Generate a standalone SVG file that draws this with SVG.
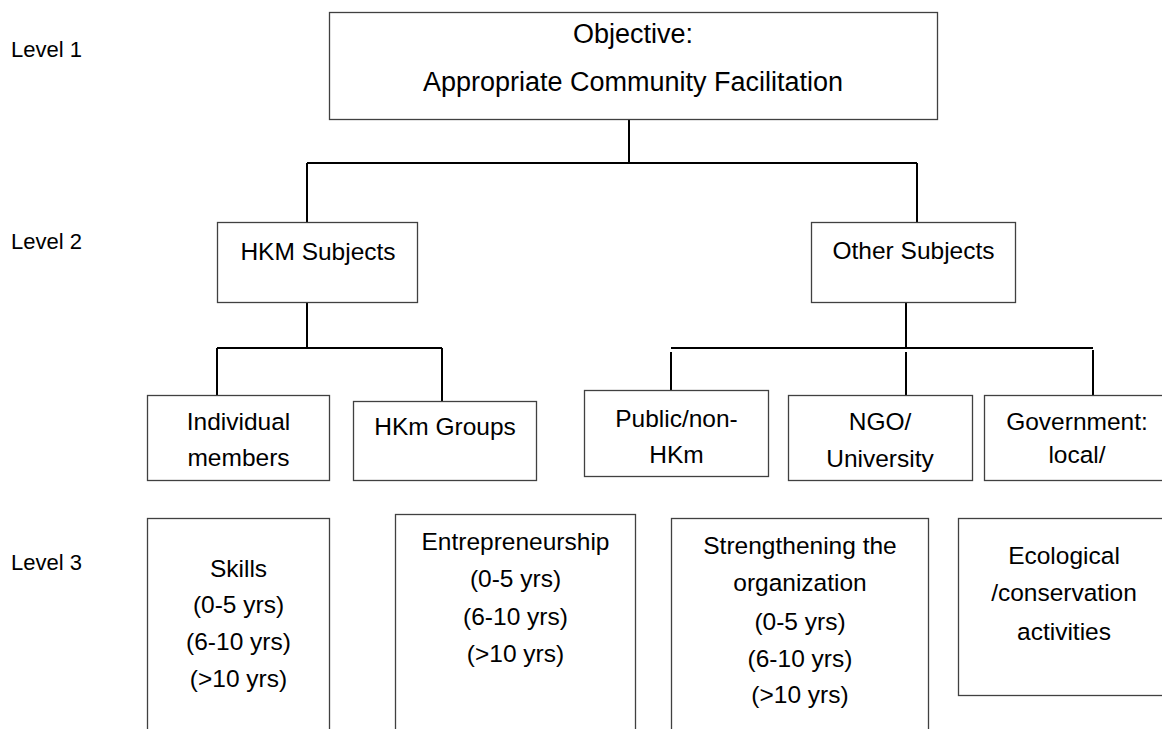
<svg xmlns="http://www.w3.org/2000/svg" width="1162" height="729" viewBox="0 0 1162 729">
<style>
.box{fill:#fff;stroke:#404040;stroke-width:1.3}
.t{font-family:"Liberation Sans",Arial,sans-serif;font-size:24.5px;fill:#000;text-anchor:middle}
.top{font-size:27px}
.lvl{font-family:"Liberation Sans",Arial,sans-serif;font-size:22px;fill:#000}
.c{stroke:#000;stroke-width:2;fill:none}
</style>
<rect width="1162" height="729" fill="#fff"/>
<g id="levels">
<text class="lvl" x="11" y="57">Level 1</text>
<text class="lvl" x="11" y="249">Level 2</text>
<text class="lvl" x="11" y="570">Level 3</text>
</g>
<g id="connectors">
<path class="c" d="M629 120V163M307 163H917M307 163V222M917 163V222"/>
<path class="c" d="M307 303V348M217 348H442M217 348V396M442 348V401"/>
<path class="c" d="M906 303V348M671 348H1093M671 352V397M906 352V395M1093 350V395"/>
</g>
<g id="objective">
<rect class="box" x="329.5" y="12.5" width="608" height="107"/>
<text class="t top" x="633" y="43">Objective:</text>
<text class="t top" x="633" y="91">Appropriate Community Facilitation</text>
</g>
<g id="hkm-subjects">
<rect class="box" x="217.5" y="222.5" width="200" height="80"/>
<text class="t" x="318" y="260">HKM Subjects</text>
</g>
<g id="other-subjects">
<rect class="box" x="811.5" y="222.5" width="204" height="80"/>
<text class="t" x="913.5" y="259">Other Subjects</text>
</g>
<g id="individual-members">
<rect class="box" x="147.5" y="395.5" width="182" height="85"/>
<text class="t" x="238.5" y="430">Individual</text>
<text class="t" x="238.5" y="466">members</text>
</g>
<g id="hkm-groups">
<rect class="box" x="353.5" y="401.5" width="183" height="79"/>
<text class="t" x="445" y="435">HKm Groups</text>
</g>
<g id="public">
<rect class="box" x="584.5" y="390.5" width="184" height="86"/>
<text class="t" x="676.5" y="427">Public/non-</text>
<text class="t" x="676.5" y="463">HKm</text>
</g>
<g id="ngo">
<rect class="box" x="788.5" y="395.5" width="184" height="85"/>
<text class="t" x="880" y="430">NGO/</text>
<text class="t" x="880" y="467">University</text>
</g>
<g id="government">
<rect class="box" x="984.5" y="395.5" width="186" height="85"/>
<text class="t" x="1077" y="430">Government:</text>
<text class="t" x="1077" y="463">local/</text>
</g>
<g id="skills">
<rect class="box" x="147.5" y="518.5" width="182" height="230"/>
<text class="t" x="238.5" y="577">Skills</text>
<text class="t" x="238.5" y="613">(0-5 yrs)</text>
<text class="t" x="238.5" y="650">(6-10 yrs)</text>
<text class="t" x="238.5" y="687">(&gt;10 yrs)</text>
</g>
<g id="entrepreneurship">
<rect class="box" x="395.5" y="514.5" width="240" height="230"/>
<text class="t" x="515.5" y="550">Entrepreneurship</text>
<text class="t" x="515.5" y="587">(0-5 yrs)</text>
<text class="t" x="515.5" y="625">(6-10 yrs)</text>
<text class="t" x="515.5" y="662">(&gt;10 yrs)</text>
</g>
<g id="strengthening">
<rect class="box" x="671.5" y="518.5" width="257" height="230"/>
<text class="t" x="800" y="554">Strengthening the</text>
<text class="t" x="800" y="591">organization</text>
<text class="t" x="800" y="630">(0-5 yrs)</text>
<text class="t" x="800" y="667">(6-10 yrs)</text>
<text class="t" x="800" y="703">(&gt;10 yrs)</text>
</g>
<g id="ecological">
<rect class="box" x="958.5" y="518.5" width="212" height="177"/>
<text class="t" x="1064" y="564">Ecological</text>
<text class="t" x="1064" y="601">/conservation</text>
<text class="t" x="1064" y="640">activities</text>
</g>
</svg>
